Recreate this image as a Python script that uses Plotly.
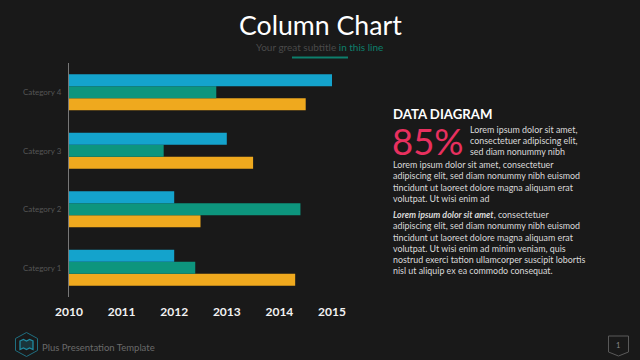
import plotly.graph_objects as go

categories = ["Category 1", "Category 2", "Category 3", "Category 4"]
series_blue = [2012.0, 2012.0, 2013.0, 2015.0]
series_green = [2012.4, 2014.4, 2011.8, 2012.8]
series_orange = [2014.3, 2012.5, 2013.5, 2014.5]
tick_years = [2010, 2011, 2012, 2013, 2014, 2015]

W, H = 640, 360
L, R, T, B = 69, 332, 63, 297
BG = "#191919"
BLUE, GREEN, ORANGE = "#14A3CC", "#0D957D", "#EFA91E"


def px(x):
    return (x - L) / (R - L)


def py(y):
    return (B - y) / (B - T)


fig = go.Figure()
base = tick_years[0]
for name, vals, col in [("Series 3", series_orange, ORANGE),
                        ("Series 2", series_green, GREEN),
                        ("Series 1", series_blue, BLUE)]:
    fig.add_bar(y=categories, x=[v - base for v in vals], base=base, orientation="h",
                marker=dict(color=col, line_width=0), name=name, showlegend=False)

ann = []


def text(x, y, s, size, color, anchor="left", family="Lato"):
    ann.append(dict(x=px(x), y=py(y), xref="paper", yref="paper", text=s, showarrow=False,
                    xanchor=anchor, yanchor="middle", align=anchor, borderpad=0, borderwidth=0,
                    font=dict(size=size, color=color, family=family)))


text(320, 25, "Column Chart", 26.7, "#FFFFFF", "center")
text(319, 46.5, "Your great subtitle <span style='color:#0D7F6C'>in this line</span>", 10, "#4A4A4A", "center")
text(393, 114, "<b>DATA DIAGRAM</b>", 13.2, "#FFFFFF")
text(392, 141, "85%", 36.5, "#E8305F")
body_top = ["Lorem ipsum dolor sit amet,", "consectetuer adipiscing elit,", "sed diam nonummy nibh"]
for i, s in enumerate(body_top):
    text(470, 129.5 + i * 11.2, s, 8.9, "#D9D9D9")
body_mid = ["Lorem ipsum dolor sit amet, consectetuer",
            "adipiscing elit, sed diam nonummy nibh euismod",
            "tincidunt ut laoreet dolore magna aliquam erat",
            "volutpat. Ut wisi enim ad"]
for i, s in enumerate(body_mid):
    text(393, 164.7 + i * 11.2, s, 8.9, "#D9D9D9")
body_low = ["<b><i>Lorem ipsum dolor sit amet</i></b>, consectetuer",
            "adipiscing elit, sed diam nonummy nibh euismod",
            "tincidunt ut laoreet dolore magna aliquam erat",
            "volutpat. Ut wisi enim ad minim veniam, quis",
            "nostrud exerci tation ullamcorper suscipit lobortis",
            "nisl ut aliquip ex ea commodo consequat."]
for i, s in enumerate(body_low):
    text(393, 214.7 + i * 11.2, s, 8.9, "#D9D9D9")
text(42, 347.5, "Plus Presentation Template", 9.5, "#6A6A6A")
text(617.5, 345, "1", 7.5, "#8A8A8A", "center")


def path(pts, closed=True):
    d = "M" + " L".join(f"{px(x):.5f} {py(y):.5f}" for x, y in pts)
    return d + (" Z" if closed else "")


shapes = [
    dict(type="rect", xref="paper", yref="paper", x0=px(292), x1=px(348), y0=py(58.5), y1=py(56.5),
         fillcolor="#0D7F6C", line_width=0),
    dict(type="path", xref="paper", yref="paper", line=dict(color="#1F6E80", width=1),
         path=path([(26.5, 332.5), (37.5, 338.5), (37.5, 350.5), (26.5, 356.5), (15.5, 350.5), (15.5, 338.5)])),
    dict(type="path", xref="paper", yref="paper", line=dict(color="#1F8AA0", width=1.3),
         fillcolor="rgba(31,138,160,0.25)",
         path=path([(20, 341), (23.5, 339.5), (26.5, 341), (29.5, 339.5), (33, 341), (33, 349.5), (29.5, 348),
                    (26.5, 349.5), (23.5, 348), (20, 349.5)])),
    dict(type="path", xref="paper", yref="paper", line=dict(color="#5A5A5A", width=1),
         path=path([(608.5, 336), (628.5, 336), (628.5, 352), (618.5, 356), (608.5, 352)])),
]

fig.update_layout(
    width=W, height=H, autosize=False,
    margin=dict(l=L, r=W - R, t=T, b=H - B, pad=0),
    paper_bgcolor=BG, plot_bgcolor=BG,
    barmode="group", bargap=0.385, bargroupgap=0,
    annotations=ann, shapes=shapes, showlegend=False,
    xaxis=dict(range=[2010, 2015], tickmode="array", tickvals=tick_years,
               ticktext=[str(y) for y in tick_years], showgrid=False, zeroline=False,
               showline=False, ticks="outside", ticklen=4, tickcolor=BG,
               tickfont=dict(family="Lato", size=12, color="#F2F2F2", weight="bold")),
    yaxis=dict(categoryorder="array", categoryarray=categories, showgrid=False, zeroline=False,
               showline=True, linecolor="#777777", linewidth=1, ticks="outside", ticklen=5,
               tickcolor=BG, tickfont=dict(family="Lato", size=8, color="#555555")),
)

fig.write_html("out.html", config=dict(displayModeBar=False),
               post_script="document.body.style.margin='0';document.body.style.background='#191919';")
